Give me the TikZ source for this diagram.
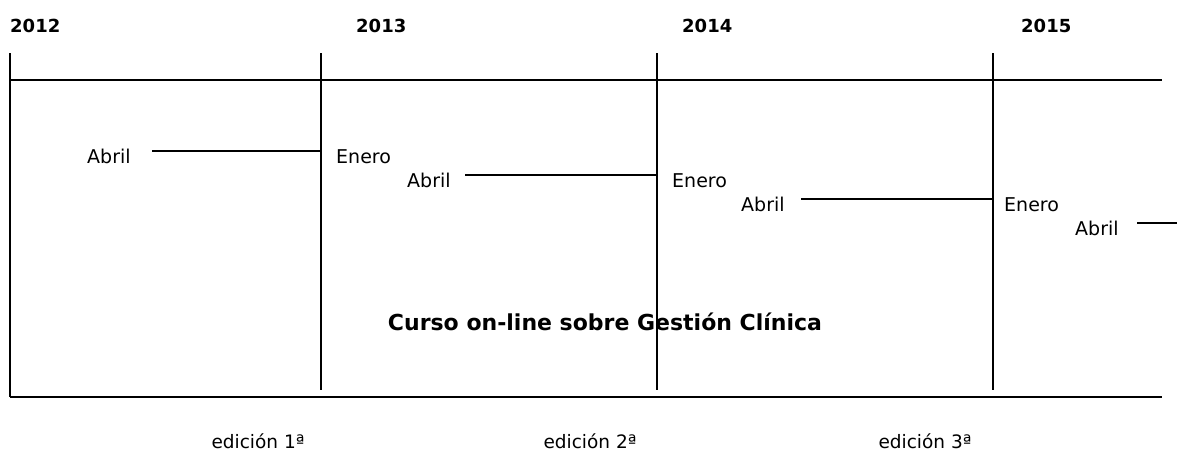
\documentclass[tikz,border=0pt]{standalone}
\usepackage{fontspec}
\setmainfont{DejaVu Sans}
\usepackage{tikz}
\usetikzlibrary{positioning}
\usepackage{xcolor}

\tikzset{
  every node/.style={inner sep=0pt},
  month/.style={font=\fontsize{19}{22}\selectfont, anchor=base west},
  year/.style={font=\bfseries\fontsize{18}{21}\selectfont, anchor=base west},
  edition/.style={font=\fontsize{18.5}{21}\selectfont, anchor=base},
  course/.style={font=\bfseries\fontsize{22}{26}\selectfont, anchor=base},
  rule/.style={line width=2pt},
  baseline rule/.style={line width=2.6pt}
}

\begin{document}
\begin{tikzpicture}[x=1pt, y=-1pt]
      \useasboundingbox (0,0) rectangle (1177,456);

      % Years and the vertical year marks
      \foreach \l/\t [count=\i] in {10/2012, 356/2013, 682/2014, 1021/2015}
        \node [year] (year-\i) at (\l,32) {\t};

      \foreach \x [count=\i] in {10,321,657,993}{
        \coordinate (top-\i) at (\x,53);
        \coordinate (bot-\i) at (\x,390);
      }
      \coordinate (bot-1) at (10,397);

      \coordinate (axis-w) at (10,80);
      \coordinate (axis-e) at (1162,80);
      \coordinate (base-w) at (10,397);
      \coordinate (base-e) at (1162,397);

      \draw [rule] (axis-w) -- (axis-e);
      \draw [baseline rule] (base-w) -- (base-e);
      \foreach \i in {1,...,4}
        \draw [rule] (top-\i) -- (bot-\i);

      % Abril ... Enero
      \foreach \a/\s/\e [count=\i] in {87/152/321, 407/465/657, 741/801/993, 1075/1137/1177}{
        \node [month] (abril-\i) at (\a,163+24*\i-24) {Abril};
        \coordinate (start-\i) at (\s,151+24*\i-24);
        \coordinate (end-\i) at (\e,151+24*\i-24);
        \draw [rule] (start-\i) -- (end-\i);
      }

      \foreach \x [count=\i] in {336,672,1004}
        \node [month] (enero-\i) at (\x,163+24*\i-24) {Enero};

      \node [course] (course) at (605,330) {Curso on-line sobre Gestión Clínica};

      \foreach \x [count=\i] in {258,590,925}
        \node [edition] (edition-\i) at (\x,448) {edición \i ª};
\end{tikzpicture}
\end{document}
